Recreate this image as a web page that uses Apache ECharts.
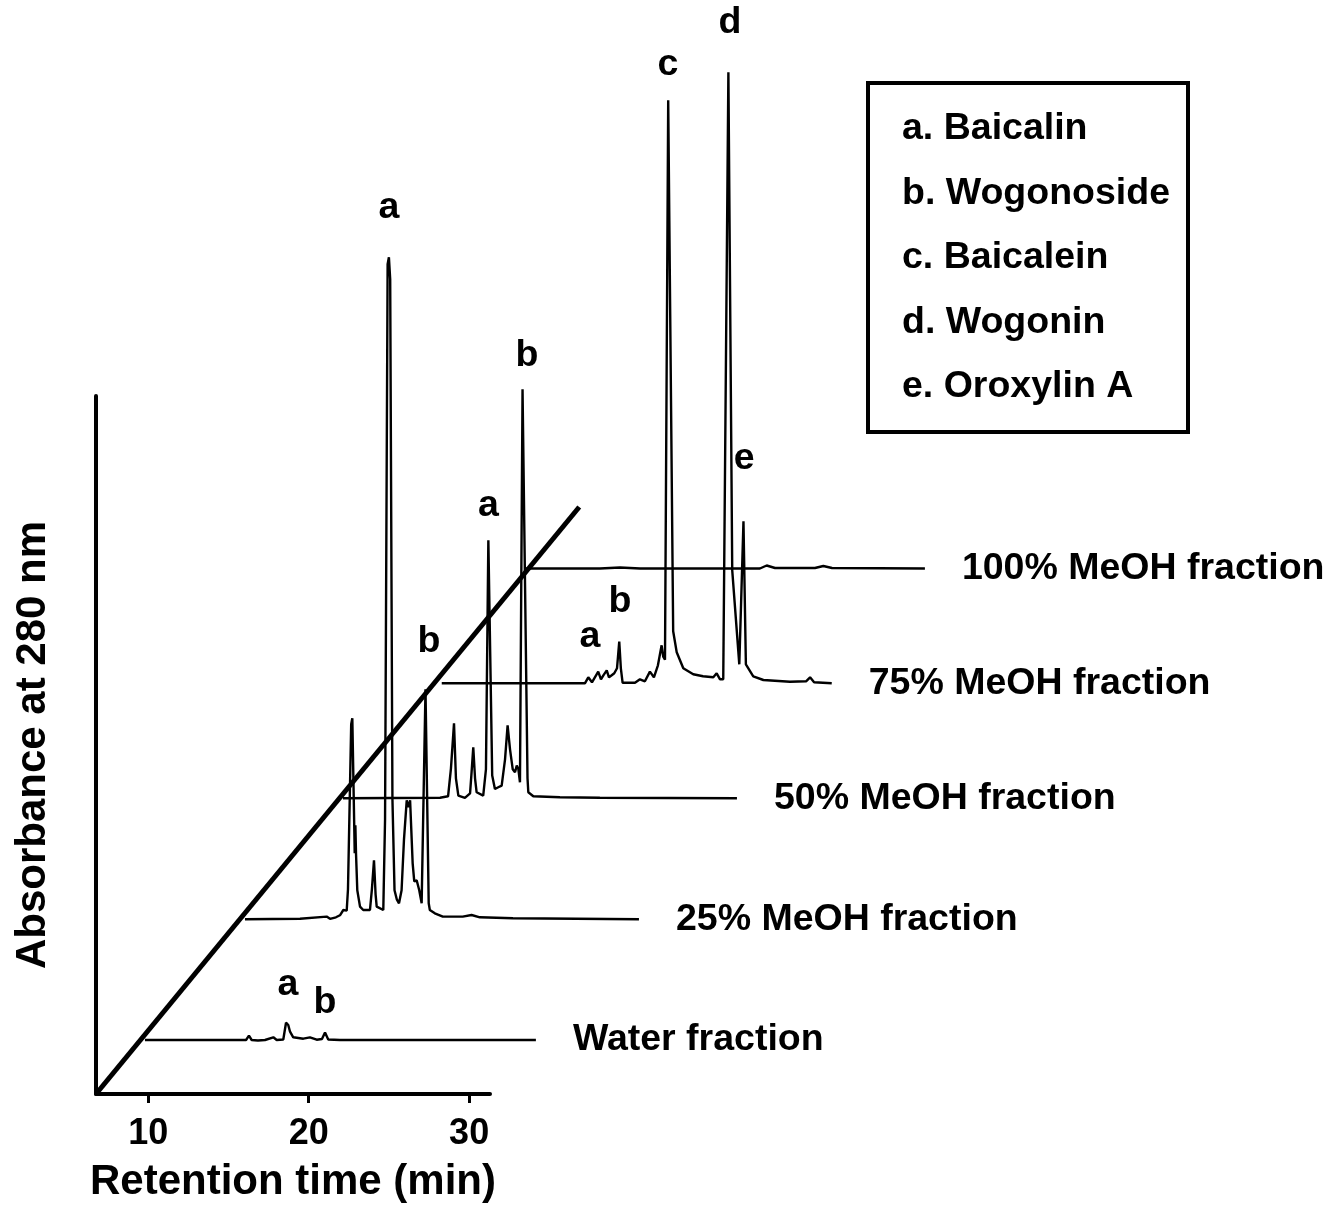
<!DOCTYPE html>
<html>
<head>
<meta charset="utf-8">
<script src="https://cdn.jsdelivr.net/npm/echarts@6/dist/echarts.min.js"></script>
<style>
html,body{margin:0;padding:0;background:#fff;}
#chart{width:1340px;height:1228px;}
</style>
</head>
<body>
<div id="chart"></div>
<script>
// ---------------- DATA ----------------
const fractionNames = ['Water fraction', '25% MeOH fraction', '50% MeOH fraction', '75% MeOH fraction', '100% MeOH fraction'];

// retention time (min) and absorbance (arbitrary units) for each fraction
const waterTime = [9.80, 13.23, 16.10, 16.28, 16.45, 16.84, 17.28, 17.80, 18.01, 18.42, 18.59, 18.73, 18.84, 19.04, 19.67, 20.08, 20.50, 20.83, 21.02, 21.22, 21.95, 34.16];
const waterAbs  = [0, 0, 0, 4.3, 0, -0.5, 0, 2.7, 0, 0.5, 17.3, 15, 8.3, 2.7, 1.3, 2.7, 0.3, 1, 7.5, 0.5, 0, 0];

const meoh25Time = [9.80, 13.23, 14.89, 15.10, 15.47, 15.72, 15.93, 16.14, 16.22, 16.42, 16.49, 16.58, 16.64, 16.68, 16.72, 16.80, 16.97, 17.17, 17.59, 17.71, 17.84, 17.94, 18.01, 18.42, 18.53, 18.69, 18.77, 18.85, 18.99, 19.12, 19.26, 19.40, 19.56, 19.71, 19.88, 19.98, 20.09, 20.25, 20.35, 20.50, 20.66, 20.81, 21.05, 21.13, 21.25, 21.32, 21.63, 22.13, 23.37, 23.92, 24.44, 26.50, 34.35];
const meoh25Abs  = [0, 0.5, 2.7, 0.5, 2, 4, 9.3, 8.7, 30, 195, 201, 120, 66, 94, 66, 29, 12.7, 9.3, 9.3, 30, 59, 25, 12.7, 9.3, 100, 655, 662, 640, 120, 29, 20, 16, 29, 80, 119, 112, 119, 56, 38, 39, 29, 16, 230, 230, 16, 9.3, 6, 2.7, 2.7, 4.3, 2, 1, 0];

const meoh50Time = [9.80, 15.85, 16.35, 16.53, 16.72, 16.84, 16.99, 17.40, 17.72, 17.81, 17.92, 18.03, 18.13, 18.54, 18.71, 18.86, 18.93, 19.10, 19.27, 19.48, 19.69, 19.90, 20.06, 20.21, 20.38, 20.52, 20.63, 20.73, 20.83, 20.99, 21.08, 21.30, 21.35, 21.66, 23.32, 25.81, 34.35];
const meoh50Abs  = [0, 0.5, 2, 30, 75, 20, 2.7, 0.5, 5, 25, 51, 20, 6, 2.7, 29, 258, 258, 22.7, 9.3, 11, 12.7, 39, 73, 49, 29, 26, 32.7, 29.3, 16, 409, 409, 20, 6, 2, 1, 0.5, 0];

const meoh75Time = [9.85, 18.77, 18.98, 19.21, 19.60, 19.77, 19.92, 20.13, 20.27, 20.44, 20.60, 20.77, 20.91, 21.01, 21.12, 21.89, 22.20, 22.51, 22.82, 23.07, 23.32, 23.55, 23.65, 23.76, 23.96, 24.05, 24.27, 24.49, 24.90, 25.52, 26.13, 26.77, 26.98, 27.19, 27.39, 27.50, 27.71, 27.78, 27.95, 28.39, 28.65, 28.80, 28.85, 29.26, 29.89, 31.55, 32.55, 32.80, 33.05, 34.15];
const meoh75Abs  = [0, 0, 6, 1, 11.7, 4, 8, 13, 6, 8, 10, 15, 41.7, 15, 0.5, 0.5, 4, 2, 11.7, 6, 18, 38, 26.7, 23.6, 583, 583, 52, 31, 15, 9, 7, 6, 10, 4, 4, 5, 611, 611, 113, 19, 162, 19, 19, 7, 3.3, 1.5, 2, 6, 1, 0];

const meoh100Time = [9.49, 14.16, 15.41, 16.66, 24.13, 24.55, 25.07, 27.56, 28.08, 28.62, 34.41];
const meoh100Abs  = [0, 0, 1, 0, 0, 3, 0.5, 0.5, 2.5, 0.5, 0];

// peak annotations: fraction index, letter, time, absorbance at the label centre
const peakLetter   = ['a', 'b', 'a', 'b', 'a', 'b', 'a', 'b', 'c', 'd', 'e'];
const peakFraction = [0, 0, 1, 1, 2, 2, 3, 3, 3, 3, 3];
const peakTime     = [18.71, 21.02, 18.77, 21.26, 18.87, 21.27, 19.09, 20.96, 23.95, 27.81, 28.69];
const peakLabelAbs = [55, 37, 712, 278, 293, 443, 47, 82, 619, 661, 225];

const compoundKey = ['a. Baicalin', 'b. Wogonoside', 'c. Baicalein', 'd. Wogonin', 'e. Oroxylin A'];
const timeTicks = [10, 20, 30];

// depth (offset) guide line, in main-axis units
const depthGuideTime = [6.75, 36.86];
const depthGuideAbs  = [0, 587];

// ---------------- LAYOUT ----------------
const FONT = '"Liberation Sans", Arial, Helvetica, sans-serif';
const MAIN = { left: 96, top: 396, bottom: 1094, tMin: 6.75, tMax: 31.3 };
const pxPerMin = (490 - MAIN.left) / (MAIN.tMax - MAIN.tMin);
const traceShiftPx = [0, 100, 198, 296, 385];
const traceBaselinePx = [1040, 919.3, 798.3, 683.3, 568.5];
const traceTMax = 35;
const guideTMax = 38;
const TXT = 37.5;

const traces = [
  [waterTime, waterAbs],
  [meoh25Time, meoh25Abs],
  [meoh50Time, meoh50Abs],
  [meoh75Time, meoh75Abs],
  [meoh100Time, meoh100Abs]
];

const grids = [{
  left: MAIN.left, top: MAIN.top,
  width: 490 - MAIN.left, height: MAIN.bottom - MAIN.top
}, {
  left: MAIN.left, top: MAIN.top,
  width: (guideTMax - MAIN.tMin) * pxPerMin, height: MAIN.bottom - MAIN.top
}];
const xAxes = [{
  gridIndex: 0, type: 'value', min: MAIN.tMin, max: MAIN.tMax,
  axisLine: { show: true, lineStyle: { color: '#000', width: 4 } },
  axisTick: { show: true, customValues: timeTicks, length: 9, lineStyle: { color: '#000', width: 3 } },
  axisLabel: { customValues: timeTicks, color: '#000', fontSize: 36, fontWeight: 'bold', fontFamily: FONT, margin: 22 },
  splitLine: { show: false },
  name: 'Retention time (min)', nameLocation: 'middle', nameGap: 67,
  nameTextStyle: { color: '#000', fontSize: 42, fontWeight: 'bold', fontFamily: FONT }
}, {
  gridIndex: 1, type: 'value', min: MAIN.tMin, max: guideTMax, show: false
}];
const yAxes = [{
  gridIndex: 0, type: 'value', min: 0, max: MAIN.bottom - MAIN.top,
  axisLine: { show: true, lineStyle: { color: '#000', width: 4 } },
  axisTick: { show: false }, axisLabel: { show: false }, splitLine: { show: false },
  name: 'Absorbance at 280 nm', nameLocation: 'middle', nameGap: 42, nameRotate: 90,
  nameTextStyle: { color: '#000', fontSize: 42, fontWeight: 'bold', fontFamily: FONT }
}, {
  gridIndex: 1, type: 'value', min: 0, max: MAIN.bottom - MAIN.top, show: false
}];

const series = [{
  type: 'line', xAxisIndex: 1, yAxisIndex: 1, clip: false, silent: true,
  data: depthGuideTime.map((t, i) => [t, depthGuideAbs[i]]),
  showSymbol: false, lineStyle: { color: '#000', width: 5 }, z: 5
}];

const G0 = 2;
traces.forEach((tr, k) => {
  const g = k + G0;
  grids.push({
    left: MAIN.left + traceShiftPx[k], top: 0,
    width: (traceTMax - MAIN.tMin) * pxPerMin, height: traceBaselinePx[k]
  });
  xAxes.push({ gridIndex: g, type: 'value', min: MAIN.tMin, max: traceTMax, show: false });
  yAxes.push({ gridIndex: g, type: 'value', min: 0, max: traceBaselinePx[k], show: false });
  series.push({
    name: fractionNames[k], type: 'line', xAxisIndex: g, yAxisIndex: g,
    data: tr[0].map((t, i) => [t, tr[1][i]]),
    showSymbol: false, clip: false, silent: true,
    lineStyle: { color: '#000', width: 2.4 },
    endLabel: { show: true, formatter: '{a}', distance: 37, color: '#000', fontSize: TXT, fontWeight: 'bold', fontFamily: FONT },
    z: 4
  });
  const labels = [];
  peakFraction.forEach((f, i) => {
    if (f === k) labels.push({ value: [peakTime[i], peakLabelAbs[i]], name: peakLetter[i] });
  });
  if (labels.length) {
    series.push({
      type: 'scatter', xAxisIndex: g, yAxisIndex: g, symbolSize: 0, silent: true, clip: false,
      data: labels,
      itemStyle: { color: '#000', opacity: 1 },
      label: { show: true, position: 'inside', formatter: '{b}', color: '#000', opacity: 1, textBorderWidth: 0, fontSize: TXT, fontWeight: 'bold', fontFamily: FONT },
      z: 6
    });
  }
});

const legendChildren = [{
  type: 'rect', shape: { x: 868, y: 83, width: 320, height: 349 },
  style: { fill: '#fff', stroke: '#000', lineWidth: 4 }
}];
compoundKey.forEach((txt, i) => {
  legendChildren.push({
    type: 'text', x: 902, y: 129 + i * 64.5,
    style: { text: txt, fill: '#000', font: 'bold ' + TXT + 'px ' + FONT, textVerticalAlign: 'middle', textAlign: 'left' }
  });
});

const chart = echarts.init(document.getElementById('chart'), null, { renderer: 'canvas' });
chart.setOption({
  animation: false,
  backgroundColor: '#fff',
  grid: grids,
  xAxis: xAxes,
  yAxis: yAxes,
  series: series,
  graphic: [{ type: 'group', children: legendChildren }]
});
</script>
</body>
</html>
